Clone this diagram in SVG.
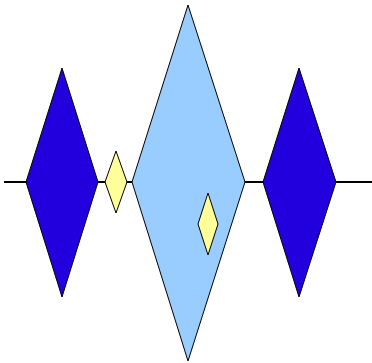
<svg xmlns="http://www.w3.org/2000/svg" width="372" height="363" viewBox="0 0 372 363">
<style>
.d{stroke:#000;stroke-width:1;stroke-linejoin:miter}
.dark{fill:#2200dd}
.light{fill:#99ccff}
.yel{fill:#ffff99}
</style>
<rect width="372" height="363" fill="#fff"/>
<g id="connectors">
<line x1="4" y1="182" x2="372" y2="182" stroke="#000" stroke-width="2"/>
</g>
<g id="left"><polygon class="d dark" points="62,68 98,182 62,297 26,182"/></g>
<g id="small1"><polygon class="d yel" points="116,151 127,182 116,213 105,182"/></g>
<g id="big"><polygon class="d light" points="188,5 245,182 188,361 132,182"/></g>
<g id="small2"><polygon class="d yel" points="208,193 218,224 208,255 198,224"/></g>
<g id="right"><polygon class="d dark" points="299,68 336,182 299,297 263,182"/></g>
</svg>
